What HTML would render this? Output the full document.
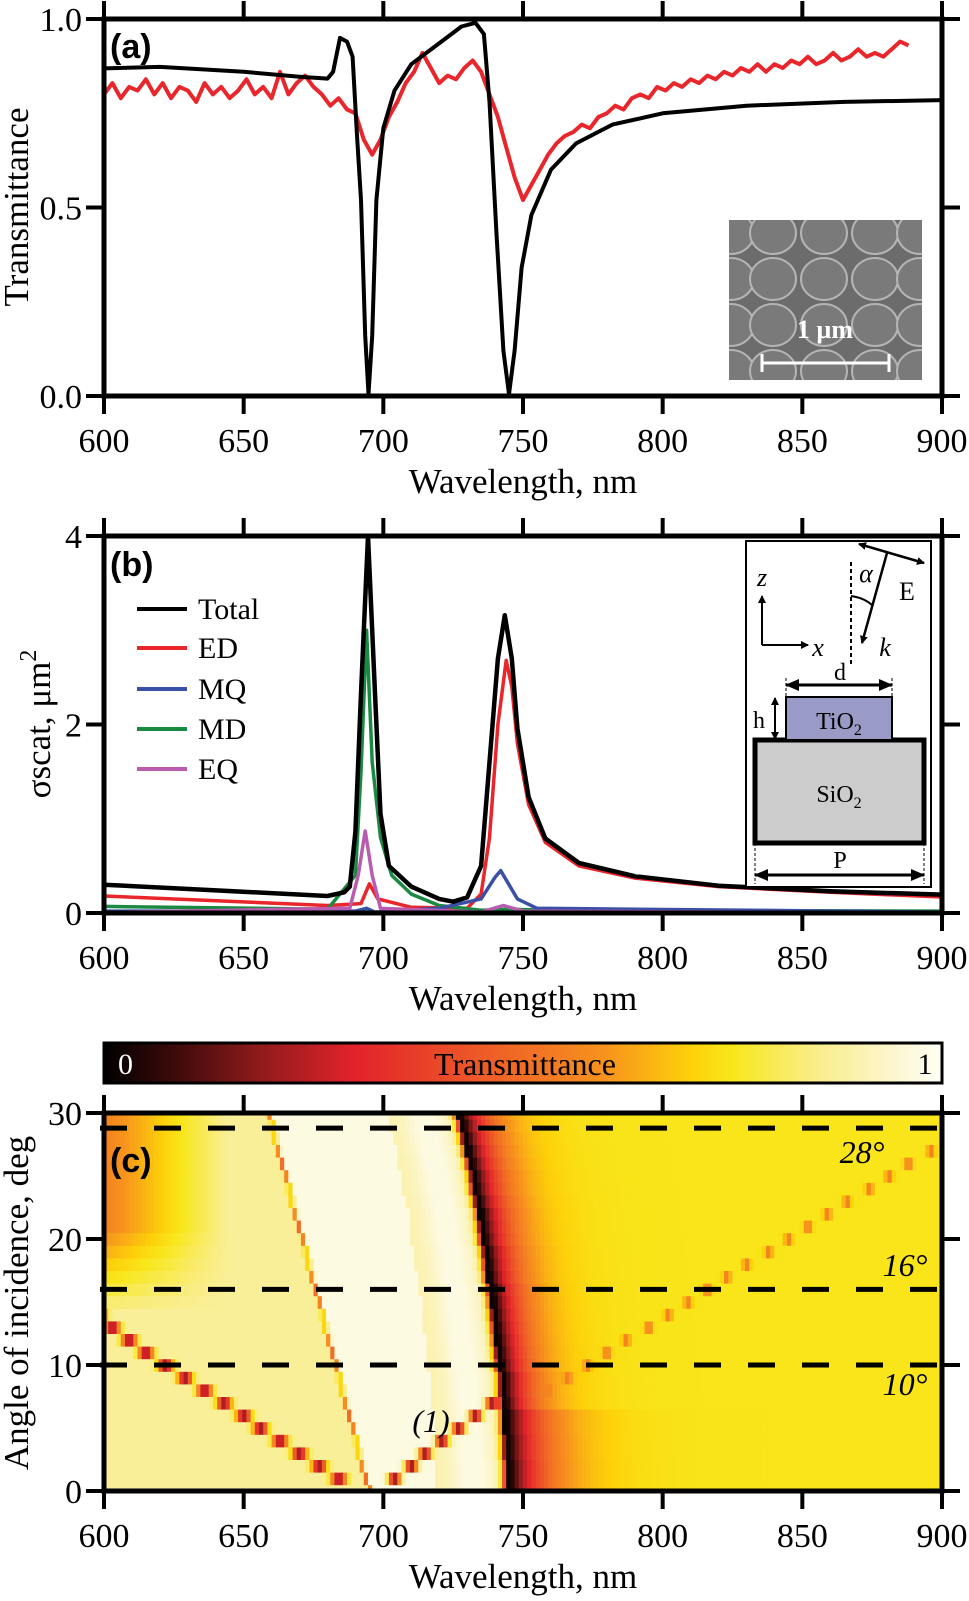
<!DOCTYPE html>
<html><head><meta charset="utf-8"><style>
html,body{margin:0;padding:0;background:#fff;}
svg{display:block;font-family:"Liberation Serif",serif;}
svg text{font-family:"Liberation Serif",serif;}
svg text.sansb{font-family:"Liberation Sans",sans-serif;font-weight:bold;}
.tk{font-size:34px;}
</style></head><body>
<svg id="fig" width="969" height="1601" viewBox="0 0 969 1601">
<defs>
<clipPath id="clipC"><rect x="104" y="1113" width="838" height="378"/></clipPath>
<clipPath id="clipSem"><rect x="729" y="220" width="193" height="160"/></clipPath>
<linearGradient id="cbar" x1="0" x2="1" y1="0" y2="0">
<stop offset="0" stop-color="#000"/><stop offset="0.08" stop-color="#3a0a0a"/><stop offset="0.18" stop-color="#8b1a1a"/>
<stop offset="0.3" stop-color="#e3232b"/><stop offset="0.45" stop-color="#ee5a28"/><stop offset="0.6" stop-color="#f7941d"/>
<stop offset="0.7" stop-color="#fdd10a"/><stop offset="0.75" stop-color="#f8e71c"/><stop offset="0.85" stop-color="#f9ed8a"/>
<stop offset="0.95" stop-color="#fcf7d5"/><stop offset="1" stop-color="#fffff5"/>
</linearGradient>
<marker id="ah" markerWidth="8" markerHeight="8" refX="7" refY="4" orient="auto-start-reverse" markerUnits="userSpaceOnUse"><path d="M0,0 L8,4 L0,8 z" fill="#000"/></marker>
<marker id="ahb" markerWidth="14" markerHeight="12" refX="13" refY="6" orient="auto-start-reverse" markerUnits="userSpaceOnUse"><path d="M0,0 L14,6 L0,12 z" fill="#000"/></marker>
</defs>
<g id="gA"></g>
<g id="gB"></g>
<g id="gC"></g>
</svg>
<script>
// ---------- Panel (a) data ----------
const aSimWl = [600,620,650,670,680,682,684.5,687,689,690.5,692,693.5,694.7,696,697.5,700,704,710,719,728,733,736,738,740.5,743,745,747,749.5,753,760,769,782,800,830,865,900];
const aSimT  = [0.869,0.873,0.860,0.847,0.842,0.86,0.95,0.94,0.90,0.70,0.52,0.16,0.005,0.16,0.52,0.71,0.81,0.88,0.93,0.98,0.99,0.96,0.78,0.43,0.12,0.005,0.12,0.34,0.48,0.60,0.67,0.72,0.75,0.77,0.78,0.785];
const aExpStart = 600, aExpStep = 3;
const aExpT = [0.80,0.83,0.79,0.82,0.81,0.84,0.80,0.83,0.79,0.82,0.81,0.78,0.83,0.80,0.82,0.79,0.81,0.84,0.80,0.82,0.79,
0.86,0.80,0.83,0.85,0.82,0.80,0.77,0.79,0.76,0.75,0.68,0.64,0.68,
0.74,0.78,0.83,0.86,0.91,0.87,0.83,0.85,0.84,0.87,0.89,0.86,0.80,
0.74,0.66,0.58,0.52,0.56,0.60,0.64,0.67,0.69,0.70,0.72,0.71,0.74,
0.75,0.77,0.76,0.79,0.80,0.79,0.82,0.81,0.83,0.82,0.84,0.83,0.85,0.84,0.86,0.85,0.87,0.86,0.88,0.86,0.88,0.87,0.89,0.88,0.90,0.88,0.89,0.91,0.89,0.90,0.92,0.90,0.91,0.90,0.92,0.94,0.93];
const xTicks = [600,650,700,750,800,850,900];
const aYTicks = [0,0.5,1.0];
const aYLabels = ["0.0","0.5","1.0"];
// ---------- Panel (b) data ----------
const bTotWl = [600,680,686,688,690,692,694.5,697,699,702,710,720,725,730,735,738,741,743.5,746,748,752,758,770,790,820,860,900];
const bTot   = [0.30,0.18,0.22,0.28,0.86,2.33,4.0,2.33,1.05,0.5,0.28,0.15,0.12,0.165,0.5,1.6,2.7,3.16,2.7,1.96,1.23,0.79,0.53,0.39,0.29,0.23,0.195];
const bEDWl = [600,680,692,695,698,710,730,735,738,741,744,746,748,752,758,770,790,820,860,900];
const bED   = [0.18,0.08,0.1,0.31,0.15,0.06,0.05,0.2,0.8,2.0,2.68,2.4,1.8,1.15,0.75,0.5,0.37,0.28,0.22,0.17];
const bMQWl = [600,690,694,697,720,735,740,742,745,748,755,900];
const bMQ   = [0.02,0.02,0.05,0.01,0.05,0.15,0.38,0.45,0.3,0.15,0.05,0.01];
const bMDWl = [600,680,690,692,694,696,699,703,710,720,735,745,760,900];
const bMD   = [0.07,0.04,0.4,1.5,3.0,1.6,0.8,0.4,0.2,0.08,0.03,0.04,0.03,0.02];
const bEQWl = [600,688,691,693.5,696,699,735,743,750,900];
const bEQ   = [0.005,0.05,0.4,0.87,0.4,0.05,0.01,0.08,0.02,0.0];
const bYTicks = [0,2,4];
// ---------- Panel (c) data ----------
const cAngles = [0,1,2,3,4,5,6,7,8,9,10,11,12,13,14,15,16,17,18,19,20,21,22,23,24,25,26,27,28,29,30];
const cMainLine = [745,745,745,744.5,744.5,744,744,743.5,743,743,742,741.5,741,740.5,740,739.5,739,738,737.5,737,736,735.5,735,734,733,732.5,731.5,730.5,729.5,728.5,727.5];
const cThinLine = [695,693.8,692.6,691.4,690.2,689,687.8,686.6,685.4,684.2,683,681.8,680.6,679.4,678.2,677,675.8,674.6,673.4,672.2,671,669.8,668.6,667.4,666.2,665,663.8,662.6,661.4,660.2,659];
const cLowBranch = [690,684,677,670,663,656,650,643,636,629,622,615,609,603,598];
const cBranch1 = [700,704,710,715,721,727,733,739];
const cRightStart = 8;
const cRightBranch = [759,766,773,780,787,795,802,809,816,823,830,838,845,852,859,866,874,881,888,896];
const cYTicks = [0,10,20,30];
const cDashed = [28.8,16,10];
const cDashLabels = ["28°","16°","10°"];

const NS="http://www.w3.org/2000/svg";
function el(tag, attrs, parent, txt){const e=document.createElementNS(NS,tag);for(const k in attrs)e.setAttribute(k,attrs[k]);if(txt!==undefined)e.textContent=txt;parent.appendChild(e);return e;}
const X = l => 104 + (l-600)*838/300;
const Ya = t => 396 - t*377;
const Yb = s => 913 - s*94.25;
const Yc = a => 1491 - a*12.6;

function frame(g, y0, y1, yTicks, yFn, yLabels, name){
  const ax = el('rect',{x:104,y:y0,width:838,height:y1-y0,fill:'none',stroke:'#000','stroke-width':5},g);
   
  xTicks.forEach(v=>{
    const t1=el('line',{x1:X(v),x2:X(v),y1:y1,y2:y1+18,stroke:'#000','stroke-width':4},g);
     
    const t2=el('line',{x1:X(v),x2:X(v),y1:y0,y2:y0-18,stroke:'#000','stroke-width':4},g);
     
    const lb=el('text',{x:X(v),y:y1+56,'text-anchor':'middle','class':'tk'},g,String(v));
     
  });
  yTicks.forEach((v,i)=>{
    const t1=el('line',{x1:86,x2:104,y1:yFn(v),y2:yFn(v),stroke:'#000','stroke-width':4},g);
     
    const t2=el('line',{x1:942,x2:960,y1:yFn(v),y2:yFn(v),stroke:'#000','stroke-width':4},g);
     
    const lb=el('text',{x:82,y:yFn(v)+12,'text-anchor':'end','class':'tk'},g,yLabels?yLabels[i]:String(v));
     
  });
  const xl=el('text',{x:523,y:y1+97,'text-anchor':'middle','font-size':35},g,'Wavelength, nm');
   
}
function pathOf(xs, ys, xf, yf){return xs.map((v,i)=>(i?'L':'M')+xf(v).toFixed(1)+','+yf(ys[i]).toFixed(1)).join(' ');}

// ---------- Panel A ----------
const gA=document.getElementById('gA');
const sem=el('g',{'clip-path':'url(#clipSem)'},gA);
 
el('rect',{x:729,y:220,width:193,height:160,fill:'#6c6c6c'},sem);
[233,279,325,371].forEach(cy=>[731,773,824,875,920].forEach(cx=>{
  el('ellipse',{cx:cx,cy:cy,rx:23,ry:21,fill:'#7a7a7a',stroke:'#b5b5b5','stroke-width':2},sem);
}));
const sb=el('line',{x1:762,x2:889,y1:363,y2:363,stroke:'#fff','stroke-width':3},gA);
 
el('line',{x1:762,x2:762,y1:354,y2:372,stroke:'#fff','stroke-width':3},gA);
el('line',{x1:889,x2:889,y1:354,y2:372,stroke:'#fff','stroke-width':3},gA);
const sbl=el('text',{x:825,y:338,'text-anchor':'middle','font-size':26,'font-weight':'bold',fill:'#fff'},gA,'1 µm');
 
const expWl = aExpT.map((v,i)=>aExpStart+i*aExpStep);
const rl=el('path',{d:pathOf(expWl,aExpT,X,Ya),fill:'none',stroke:'#e8262b','stroke-width':4,'stroke-linejoin':'round'},gA);
 
const bl=el('path',{d:pathOf(aSimWl,aSimT,X,Ya),fill:'none',stroke:'#000','stroke-width':4,'stroke-linejoin':'round'},gA);
 
frame(gA,19,396,aYTicks,Ya,aYLabels,'panel-a');
const la=el('text',{x:110,y:58,'class':'sansb','font-size':34},gA,'(a)');
 
const yta=el('text',{x:0,y:0,'font-size':35,'text-anchor':'middle',transform:'translate(28,207) rotate(-90)'},gA,'Transmittance');
 

// ---------- Panel B ----------
const gB=document.getElementById('gB');
const series=[[bTotWl,bTot,'#000','total'],[bEDWl,bED,'#e8262b','ed'],[bMDWl,bMD,'#1a8a42','md'],[bMQWl,bMQ,'#3a4fa6','mq'],[bEQWl,bEQ,'#b85cb0','eq']];
[series[1],series[2],series[3],series[4],series[0]].forEach(s=>{
  const p=el('path',{d:pathOf(s[0],s[1],X,Yb),fill:'none',stroke:s[2],'stroke-width':s[3]==='total'?4.5:3.5,'stroke-linejoin':'round'},gB);
   
});
[['Total','#000',619],['ED','#e8262b',658],['MQ','#3a4fa6',699],['MD','#1a8a42',739],['EQ','#b85cb0',779]].forEach(l=>{
  const g=el('g',{},gB);
   
  el('line',{x1:137,x2:187,y1:l[2]-10,y2:l[2]-10,stroke:l[1],'stroke-width':4},g);
  el('text',{x:198,y:l[2],'font-size':30},g,l[0]);
});
frame(gB,536,913,bYTicks,Yb,null,'panel-b');
const lb=el('text',{x:110,y:576,'class':'sansb','font-size':34},gB,'(b)');
 
const ytb=el('text',{x:0,y:0,'font-size':35,'text-anchor':'middle',transform:'translate(50,724) rotate(-90)'},gB);
 
ytb.innerHTML='σscat, μm<tspan dy="-14" font-size="24">2</tspan>';
const ins=el('g',{},gB);
 
el('rect',{x:746,y:541,width:185,height:346,fill:'#fff',stroke:'#000','stroke-width':2},ins);
el('rect',{x:755,y:740,width:169,height:103,fill:'#cccccc',stroke:'#000','stroke-width':5},ins);
el('rect',{x:786,y:697,width:106,height:43,fill:'#9a9ac6',stroke:'#000','stroke-width':2},ins);
el('text',{x:839,y:729,'font-size':24,'text-anchor':'middle'},ins).innerHTML='TiO<tspan dy="6" font-size="16">2</tspan>';
el('text',{x:839,y:802,'font-size':24,'text-anchor':'middle'},ins).innerHTML='SiO<tspan dy="6" font-size="16">2</tspan>';
el('line',{x1:786,x2:892,y1:685,y2:685,stroke:'#000','stroke-width':3,'marker-start':'url(#ahb)','marker-end':'url(#ahb)'},ins);
el('line',{x1:786,x2:786,y1:678,y2:697,stroke:'#000','stroke-width':1,'stroke-dasharray':'3,2'},ins);
el('line',{x1:892,x2:892,y1:678,y2:697,stroke:'#000','stroke-width':1,'stroke-dasharray':'3,2'},ins);
el('text',{x:840,y:680,'font-size':24,'text-anchor':'middle'},ins,'d');
el('line',{x1:775,x2:775,y1:698,y2:739,stroke:'#000','stroke-width':2,'marker-start':'url(#ah)','marker-end':'url(#ah)'},ins);
el('text',{x:759,y:728,'font-size':24,'text-anchor':'middle'},ins,'h');
el('line',{x1:755,x2:924,y1:875,y2:875,stroke:'#000','stroke-width':3,'marker-start':'url(#ahb)','marker-end':'url(#ahb)'},ins);
el('line',{x1:755,x2:755,y1:843,y2:884,stroke:'#000','stroke-width':1,'stroke-dasharray':'3,2'},ins);
el('line',{x1:924,x2:924,y1:843,y2:884,stroke:'#000','stroke-width':1,'stroke-dasharray':'3,2'},ins);
el('text',{x:840,y:868,'font-size':24,'text-anchor':'middle'},ins,'P');
el('line',{x1:762,x2:762,y1:645,y2:596,stroke:'#000','stroke-width':2,'marker-end':'url(#ah)'},ins);
el('line',{x1:762,x2:808,y1:645,y2:645,stroke:'#000','stroke-width':2,'marker-end':'url(#ah)'},ins);
el('text',{x:762,y:586,'font-size':26,'font-style':'italic','text-anchor':'middle'},ins,'z');
el('text',{x:818,y:656,'font-size':26,'font-style':'italic','text-anchor':'middle'},ins,'x');
el('line',{x1:851,x2:851,y1:562,y2:665,stroke:'#000','stroke-width':2,'stroke-dasharray':'4,3'},ins);
el('line',{x1:887,x2:862,y1:553,y2:643,stroke:'#000','stroke-width':2.5,'marker-end':'url(#ah)'},ins);
el('line',{x1:859,x2:924,y1:544,y2:563,stroke:'#000','stroke-width':2.5,'marker-start':'url(#ah)','marker-end':'url(#ah)'},ins);
el('path',{d:'M851,596 Q865,598 873,606',fill:'none',stroke:'#000','stroke-width':2},ins);
el('text',{x:866,y:582,'font-size':26,'font-style':'italic','text-anchor':'middle'},ins,'α');
el('text',{x:907,y:600,'font-size':26,'text-anchor':'middle'},ins,'E');
el('text',{x:885,y:656,'font-size':26,'font-style':'italic','text-anchor':'middle'},ins,'k');

// ---------- Panel C ----------
const gC=document.getElementById('gC');
const cb=el('rect',{x:104,y:1043,width:838,height:40,fill:'url(#cbar)',stroke:'#000','stroke-width':3},gC);
 
el('text',{x:118,y:1074,'font-size':30,fill:'#fff'},gC,'0');
const cbt=el('text',{x:525,y:1075,'font-size':32,'text-anchor':'middle'},gC,'Transmittance');
 
el('text',{x:925,y:1074,'font-size':30,'text-anchor':'middle'},gC,'1');

const stops=[[0,[0,0,0]],[0.08,[58,10,10]],[0.18,[139,26,26]],[0.3,[227,35,43]],[0.45,[238,90,40]],[0.6,[247,148,29]],[0.7,[253,209,10]],[0.75,[248,231,28]],[0.85,[249,237,138]],[0.95,[252,247,213]],[1,[255,255,245]]];
function cmap(t){t=Math.max(0,Math.min(1,t));for(let i=1;i<stops.length;i++){if(t<=stops[i][0]){const a=stops[i-1],b=stops[i],f=(t-a[0])/(b[0]-a[0]);return 'rgb('+a[1].map((v,k)=>Math.round(v+(b[1][k]-v)*f)).join(',')+')';}}return 'rgb(255,255,245)';}
function dip(T,dl,w,depth){return T-(T-depth)*Math.exp(-(dl*dl)/(w*w));}
function cellT(l,ai){
  const a=cAngles[ai], m=cMainLine[ai], th=cThinLine[ai];
  let T;
  if(l>=m-1){const d=Math.max(0,l-m-0.5);T=0.745-0.73*Math.exp(-d/(a<7?13:10));}
  else{const d=m-1-l;T=0.97-0.92*Math.exp(-d/1.4);
    if(d>4 && d<25) T=Math.min(T,0.9+0.08*Math.exp(-Math.pow((d-12)/7,2)));
    if(l<th){T=Math.min(T,0.87);
      if(a>14){const f=Math.min(1,(a-14)/7),g=Math.max(0,(645-l)/45);T-=f*g*0.32;}
    }}
  T=dip(T,l-th,0.7,0.5);
  if(ai<cLowBranch.length && ai>0) T=dip(T,l-cLowBranch[ai],2.6,0.22);
  if(ai<cBranch1.length && ai>0) T=dip(T,l-cBranch1[ai],2.2,0.22);
  const ri=ai-cRightStart; if(ri>=0 && ri<cRightBranch.length) T=dip(T,l-cRightBranch[ri],1.4,0.55);
  return T;
}
const hm=el('g',{'clip-path':'url(#clipC)'},gC);
 
const step=1.5;
for(let ai=0;ai<cAngles.length;ai++){
  for(let l=600;l<900;l+=step){
    const r=el('rect',{x:X(l).toFixed(2),y:(Yc(cAngles[ai])-6.3).toFixed(2),width:(step*838/300+0.5).toFixed(2),height:13.1,fill:cmap(cellT(l+step/2,ai))},hm);
    
    
  }
}
cDashed.forEach((v,i)=>{
  const d=el('line',{x1:100,x2:952,y1:Yc(v),y2:Yc(v),stroke:'#000','stroke-width':5,'stroke-dasharray':'27,27'},gC);
   
});
[[862,1163,'28°'],[905,1276,'16°'],[905,1395,'10°']].forEach(t=>{
  const e=el('text',{x:t[0],y:t[1],'font-size':32,'font-style':'italic','text-anchor':'middle'},gC,t[2]);
   
});
const one=el('text',{x:431,y:1432,'font-size':32,'font-style':'italic','text-anchor':'middle'},gC,'(1)');
 
frame(gC,1113,1491,cYTicks,Yc,null,'panel-c');
const lc=el('text',{x:110,y:1172,'class':'sansb','font-size':34},gC,'(c)');
 
const ytc=el('text',{x:0,y:0,'font-size':35,'text-anchor':'middle',transform:'translate(28,1303) rotate(-90)'},gC,'Angle of incidence, deg');
 
</script>
</body></html>
